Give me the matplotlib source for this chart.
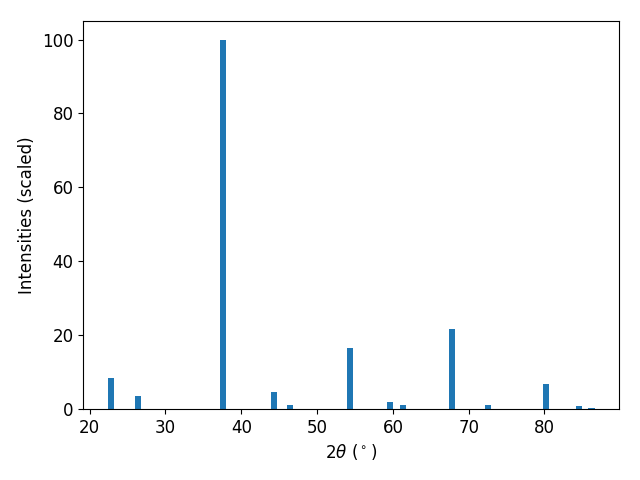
import matplotlib
matplotlib.use("Agg")
import matplotlib.pyplot as plt

two_theta = [22.76, 26.38, 37.6, 44.34, 46.45, 54.3, 59.56, 61.3, 67.85, 72.6, 80.2, 84.6, 86.2]
intensity = [8.4, 3.5, 100.0, 4.6, 1.1, 16.5, 1.9, 1.1, 21.7, 1.1, 6.8, 0.8, 0.3]

plt.rcParams['font.size'] = 12

fig, ax = plt.subplots(figsize=(6.4, 4.8), dpi=100)
ax.bar(two_theta, intensity, width=0.8)
ax.set_xlabel(r"2$\theta$ ($^\circ$)")
ax.set_ylabel("Intensities (scaled)")

fig.subplots_adjust(left=0.13, right=0.967, top=0.956, bottom=0.148)
plt.savefig("out.png")
